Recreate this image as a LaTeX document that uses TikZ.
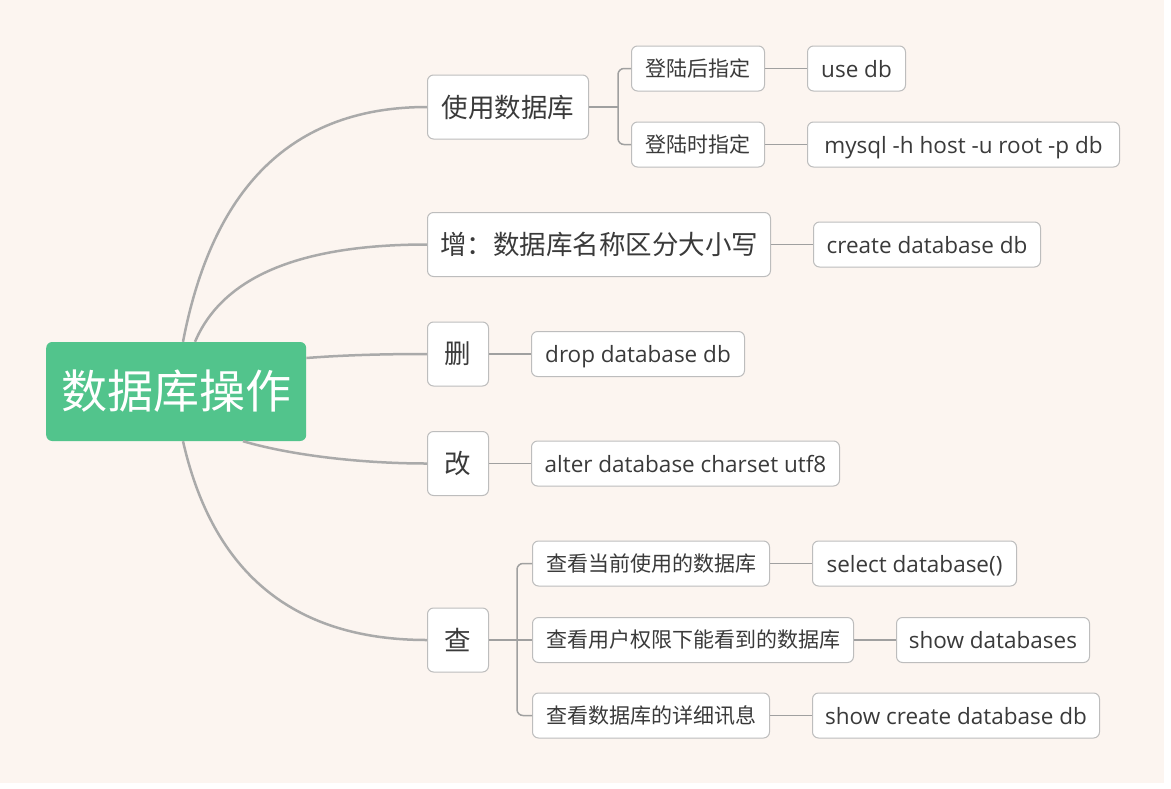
\documentclass[tikz,border=0pt]{standalone}
\usepackage{fontspec}
\setmainfont{Open Sans}
\newfontfamily\cjk{Noto Sans CJK SC}
\usetikzlibrary{calc}
\definecolor{bg}{HTML}{FCF5F0}
\definecolor{rootgreen}{HTML}{52C48C}
\definecolor{linegray}{HTML}{AAAAAA}
\definecolor{thingray}{HTML}{A0A0A0}
\definecolor{boxline}{HTML}{BDBDBD}
\definecolor{txt}{HTML}{3A3A3A}
\begin{document}
\begin{tikzpicture}[x=1pt,y=-1pt,
  box/.style={draw=boxline, line width=1pt, fill=white, rounded corners=6pt, text=txt, anchor=west, inner sep=0pt, align=center},
  rootbox/.style={fill=rootgreen, rounded corners=6pt, text=white, anchor=west, inner sep=0pt, minimum width=260pt, minimum height=99pt, font=\cjk\fontsize{46}{50}\selectfont},
  lvlone/.style={box, minimum height=64pt, font=\cjk\fontsize{26.5}{30}\selectfont},
  lvltwo/.style={box, minimum height=45pt, font=\cjk\fontsize{21}{24}\selectfont},
  code/.style={box, minimum height=45pt, text height=17pt, text depth=0pt, font=\fontsize{22.5}{26}\selectfont},
  curve/.style={draw=linegray, line width=2.5pt},
  thinline/.style={draw=thingray, line width=1.5pt},
]
\fill[white] (0,0) rectangle (1171,788);
\fill[bg] (0,0) rectangle (1164,783);
\useasboundingbox (0,0) rectangle (1171,788);

% root
\node[rootbox] (root) at (46,391.5) {数据库操作};

% level one
\node[lvlone, minimum width=161pt] (use) at (427,107) {使用数据库};
\node[lvlone, minimum width=343pt] (add) at (427,244.5) {增：数据库名称区分大小写};
\node[lvlone, minimum width=61pt] (del) at (427,354) {删};
\node[lvlone, minimum width=61pt] (alt) at (427,463.5) {改};
\node[lvlone, minimum width=61pt] (qry) at (427,640) {查};

% level two
\node[lvltwo, minimum width=133pt] (after) at (631,68.5) {登陆后指定};
\node[lvltwo, minimum width=133pt] (when) at (631,144.5) {登陆时指定};
\node[code, minimum width=98pt] (usedb) at (807,68.5) {use db};
\node[code, minimum width=312pt] (mysql) at (807,144.5) {mysql -h host -u root -p db};
\node[code, minimum width=227pt] (create) at (813,244.5) {create database db};
\node[code, minimum width=213pt] (drop) at (531,354) {drop database db};
\node[code, minimum width=308pt] (alter) at (531,463.5) {alter database charset utf8};
\node[lvltwo, minimum width=237pt] (q1) at (532,563.5) {查看当前使用的数据库};
\node[lvltwo, minimum width=321pt] (q2) at (532,640) {查看用户权限下能看到的数据库};
\node[lvltwo, minimum width=237pt] (q3) at (532,715.5) {查看数据库的详细讯息};
\node[code, minimum width=204pt] (sel) at (812,563.5) {select database()};
\node[code, minimum width=193pt] (show) at (896,640) {show databases};
\node[code, minimum width=287pt] (showc) at (812,715.5) {show create database db};

% root curves
\draw[curve] ($(root.north west)+(137,0)$) .. controls (210,201) and (281,107) .. (use.west);
\draw[curve] ($(root.north west)+(149,0)$) .. controls (220,283) and (288,244.5) .. (add.west);
\draw[curve] ($(root.east)+(0,-33.5)$) .. controls (345,355) and (385,354) .. (del.west);
\draw[curve] ($(root.south west)+(197,0)$) .. controls (290,455) and (360,463.5) .. (alt.west);
\draw[curve] ($(root.south west)+(137,0)$) .. controls (210,560) and (281,640) .. (qry.west);

% second-level connectors
\coordinate (j1) at ($(use.east)+(29,0)$);
\draw[thinline] (use.east) -- (j1);
\draw[thinline, rounded corners=6pt] (j1) |- (after.west);
\draw[thinline, rounded corners=6pt] (j1) |- (when.west);
\draw[thinline] (after.east) -- (usedb.west);
\draw[thinline] (when.east) -- (mysql.west);
\draw[thinline] (add.east) -- (create.west);
\draw[thinline] (del.east) -- (drop.west);
\draw[thinline] (alt.east) -- (alter.west);
\coordinate (j2) at ($(qry.east)+(28,0)$);
\draw[thinline] (qry.east) -- (j2);
\draw[thinline, rounded corners=6pt] (j2) |- (q1.west);
\draw[thinline] (j2) -- (q2.west);
\draw[thinline, rounded corners=6pt] (j2) |- (q3.west);
\draw[thinline] (q1.east) -- (sel.west);
\draw[thinline] (q2.east) -- (show.west);
\draw[thinline] (q3.east) -- (showc.west);
\end{tikzpicture}
\end{document}
